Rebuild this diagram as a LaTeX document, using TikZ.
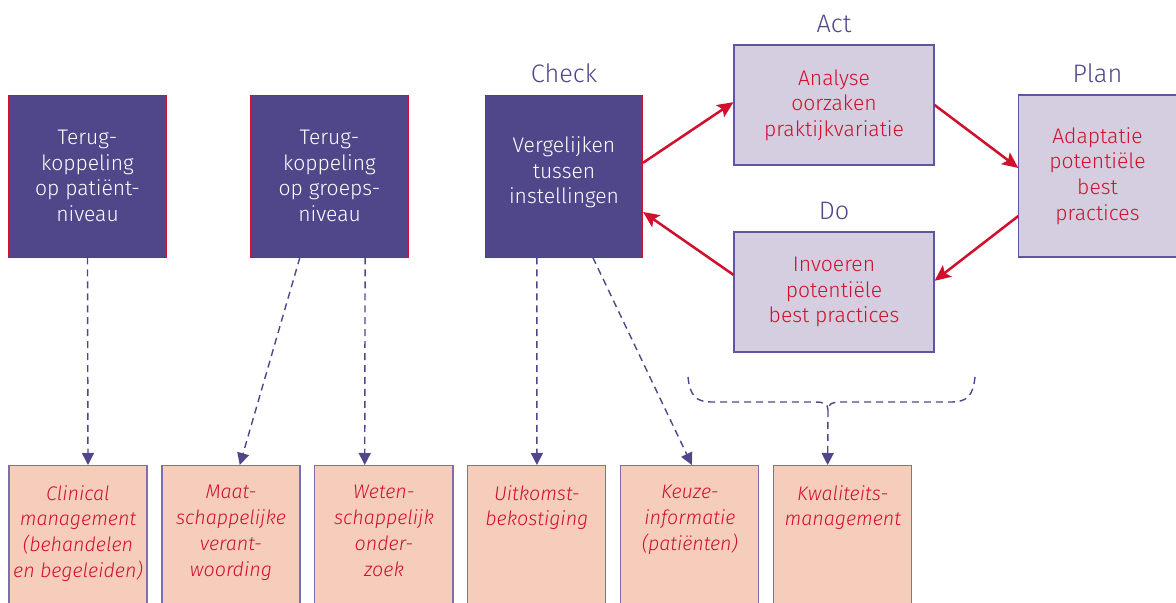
\documentclass[tikz,border=0pt]{standalone}
\usepackage{fontspec}
\setmainfont{Fira Sans}[UprightFont=* Light, ItalicFont=* Light Italic]
\usetikzlibrary{arrows.meta,positioning}

\definecolor{pdcapurple}{HTML}{50468A}
\definecolor{pdcared}{HTML}{D0102C}
\definecolor{pdcalilac}{HTML}{D5CDE0}
\definecolor{pdcaedge}{HTML}{5F56A0}
\definecolor{pdcapeach}{HTML}{F6CDBB}
\definecolor{goaledge}{HTML}{7A70B0}

\begin{document}
\begin{tikzpicture}[
    x=0.025cm, y=-0.025cm,
    font=\fontsize{15}{18.2}\selectfont,
    feedback/.style={draw=pdcared, line width=0.6pt, fill=pdcapurple, text=white, align=center, inner sep=0pt, minimum width=3.93cm, minimum height=4.05cm},
    cyclebox/.style={draw=pdcaedge, line width=0.8pt, fill=pdcalilac, text=pdcared, align=center, inner sep=0pt, minimum width=5cm, minimum height=3cm},
    phase/.style={text=pdcapurple, font=\fontsize{18}{20}\selectfont, inner sep=0pt},
    goal/.style={draw=goaledge, line width=0.8pt, fill=pdcapeach, inner sep=0pt, minimum width=3.45cm, minimum height=3.75cm,
        label={[goaltext]north:{#1}}},
    goaltext/.style={text=pdcared, font=\itshape\fontsize{14}{18.4}\selectfont, align=center, anchor=north, inner sep=0pt, yshift=-0.5cm},
    redarr/.style={-{Stealth[length=4mm, width=3.6mm, inset=0.8mm]}, draw=pdcared, line width=1.8pt},
    dasharr/.style={-{Triangle[length=3mm, width=3mm]}, draw=pdcapurple, line width=1pt, dash pattern=on 5pt off 3.5pt},
    dashline/.style={draw=pdcapurple, line width=1pt, dash pattern=on 5pt off 3.5pt},
]
\useasboundingbox (0,0) rectangle (1176,603);

% Feedback and PDCA cycle
\node[feedback] (fbpat) at (87.5,176) {Terug-\\koppeling\\op patiënt-\\niveau};
\node[feedback] (fbgroup) at (329.5,176) {Terug-\\koppeling\\op groeps-\\niveau};
\node[feedback, label={[phase, label distance=0.28cm]above:Check}] (check) at (564,176) {Vergelijken\\tussen\\instellingen\\[-10pt]};
\node[cyclebox, label={[phase, label distance=0.28cm]above:Act}] (act) at (834,105) {Analyse\\oorzaken\\praktijkvariatie};
\node[cyclebox, label={[phase, label distance=0.28cm]above:Do}] (do) at (834,292) {Invoeren\\potentiële\\best practices};
\node[cyclebox, minimum width=3.93cm, minimum height=4.05cm, label={[phase, label distance=0.28cm]above:Plan}] (plan) at (1097.5,176) {Adaptatie\\potentiële\\best\\practices};

% Uses of the feedback
\node[goal={Clinical\\management\\(behandelen\\en begeleiden)}, anchor=north] (clinical) at (78,465) {};
\node[goal={Maat-\\schappelijke\\verant-\\woording}, right=0.345cm of clinical] (account) {};
\node[goal={Weten-\\schappelijk\\onder-\\zoek}, right=0.345cm of account] (research) {};
\node[goal={Uitkomst-\\bekostiging}, right=0.345cm of research] (funding) {};
\node[goal={Keuze-\\informatie\\(patiënten)}, right=0.345cm of funding] (choice) {};
\node[goal={Kwaliteits-\\management}, right=0.345cm of choice] (quality) {};

% Cycle arrows
\draw[redarr] ([yshift=0.33cm]check.east) -- ([yshift=0.07cm]act.west);
\draw[redarr] (act.east) -- ([yshift=0.2cm]plan.west);
\draw[redarr] ([yshift=-1cm]plan.west) -- ([yshift=0.28cm]do.east);
\draw[redarr] ([yshift=0.43cm]do.west) -- ([yshift=-0.9cm]check.east);

% Dashed arrows
\draw[dasharr] (fbpat.south) -- ([xshift=0.25cm]clinical.north);
\draw[dasharr] ([xshift=-0.74cm]fbgroup.south) -- ([xshift=0.22cm]account.north);
\draw[dasharr] ([xshift=0.89cm]fbgroup.south) -- ([xshift=-0.48cm]research.north);
\draw[dasharr] ([xshift=-0.68cm]check.south) -- (funding.north);
\draw[dasharr] ([xshift=0.72cm]check.south) -- ([xshift=0.05cm]choice.north);

% Brace under Act/Do
\coordinate (braceL) at (688,377);
\coordinate (braceR) at (975,377);
\coordinate (braceM) at (828,410);
\draw[dashline] (braceL) .. controls (690,396) and (696,402) .. (712,402) -- (815,402) .. controls (824,402) and (828,404) .. (braceM);
\draw[dashline] (braceR) .. controls (973,396) and (967,402) .. (951,402) -- (841,402) .. controls (832,402) and (828,404) .. (braceM);
\draw[dasharr] (braceM) -- ([xshift=-0.38cm]quality.north);
\end{tikzpicture}
\end{document}
